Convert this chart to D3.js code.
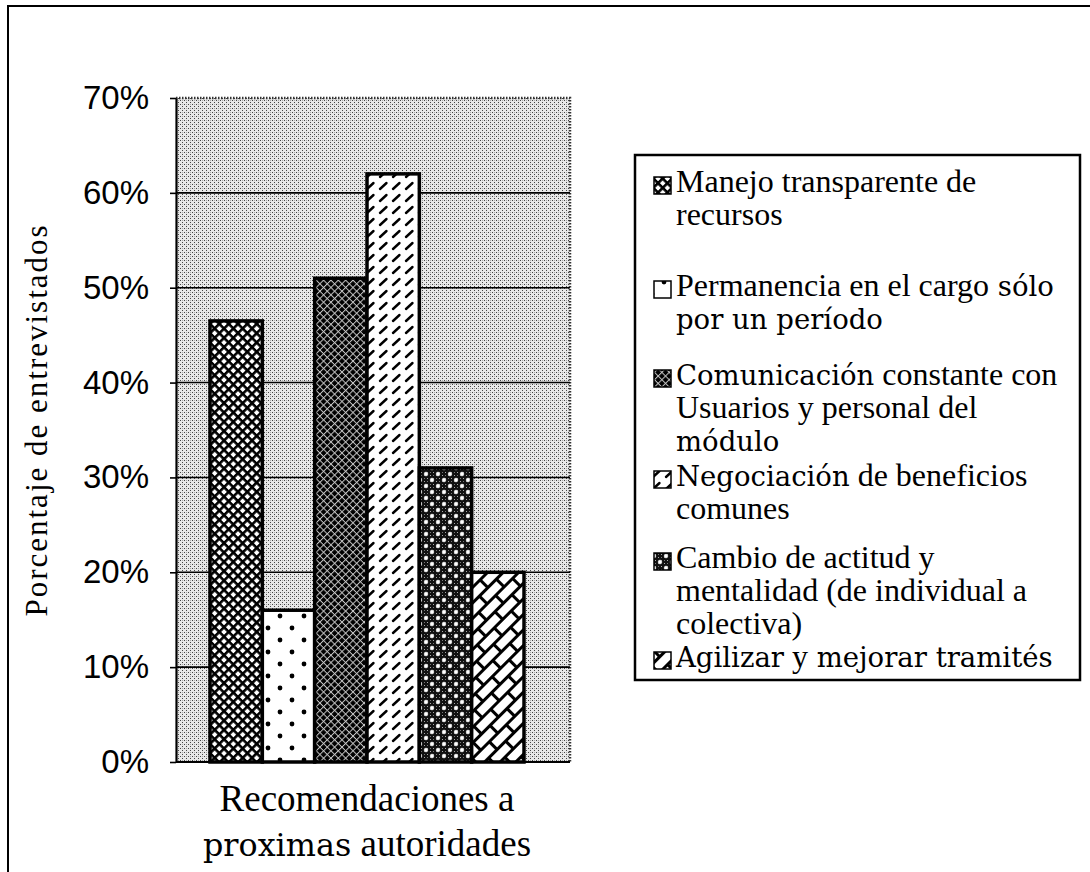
<!DOCTYPE html>
<html>
<head>
<meta charset="utf-8">
<script src="https://cdn.jsdelivr.net/npm/d3@7"></script>
<style>
  body { margin: 0; background: #fff; }
</style>
</head>
<body>
<svg id="chart" width="1090" height="872"></svg>
<script>
// data
var categories = [
    "Manejo transparente de recursos",
    "Permanencia en el cargo sólo por un período",
    "Comunicación constante con Usuarios y personal del módulo",
    "Negociación de beneficios comunes",
    "Cambio de actitud y mentalidad (de individual a colectiva)",
    "Agilizar y mejorar tramités"
];
var values = [0.465, 0.16, 0.51, 0.62, 0.31, 0.20];
var yTicks = [0, 0.1, 0.2, 0.3, 0.4, 0.5, 0.6, 0.7];
var legendLines = [
    ["Manejo transparente de", "recursos"],
    ["Permanencia en el cargo sólo", "por un período"],
    ["Comunicación constante con", "Usuarios y personal del", "módulo"],
    ["Negociación de beneficios", "comunes"],
    ["Cambio de actitud y", "mentalidad (de individual a", "colectiva)"],
    ["Agilizar y mejorar tramités"]
];
var groupLabel = ["Recomendaciones a", "proximas autoridades"];
var yTitle = "Porcentaje de entrevistados";
// words that the scan prints in a different typeface
var altWords = ["sólo", "por", "un", "período", "Comunicación", "módulo", "Negociación",
    "Agilizar", "mejorar", "tramités", "proximas"];

var svg = d3.select("#chart");
var W = 1090, H = 872;

var plot = { left: 176, right: 570, top: 98, bottom: 762 };
var barRange = [210, 524];

var serif = "'Liberation Serif', 'Times New Roman', serif";
var sans = "'Liberation Sans', Arial, sans-serif";
var alt = "'DejaVu Serif', serif";

svg.append("rect").attr("width", W).attr("height", H).attr("fill", "#fff");

// ---- fill patterns -------------------------------------------------
var defs = svg.append("defs");

// halftone background of the plot area
var pBg = defs.append("pattern").attr("id", "p-bg")
    .attr("patternUnits", "userSpaceOnUse").attr("width", 4).attr("height", 4);
pBg.append("rect").attr("width", 4).attr("height", 4).attr("fill", "#e8e8e8");
pBg.append("rect").attr("x", 0).attr("y", 0).attr("width", 1).attr("height", 1).attr("fill", "#444");
pBg.append("rect").attr("x", 2).attr("y", 2).attr("width", 1).attr("height", 1).attr("fill", "#444");
pBg.append("rect").attr("x", 2).attr("y", 0).attr("width", 1).attr("height", 1).attr("fill", "#aaa");

// crosshatch lattice
function lattice(id, pitch, lw, bg, fg) {
    var p = defs.append("pattern").attr("id", id)
        .attr("patternUnits", "userSpaceOnUse")
        .attr("width", pitch).attr("height", pitch)
        .attr("patternTransform", "rotate(45)");
    p.append("rect").attr("width", pitch).attr("height", pitch).attr("fill", bg);
    p.append("rect").attr("width", pitch).attr("height", lw).attr("fill", fg);
    p.append("rect").attr("width", lw).attr("height", pitch).attr("fill", fg);
    return p;
}
lattice("p0", 6.6, 2.6, "#fff", "#000");
lattice("p2", 5.2, 1.0, "#000", "#c4c4c4");

// sparse dots
var p1 = defs.append("pattern").attr("id", "p1")
    .attr("patternUnits", "userSpaceOnUse").attr("width", 24).attr("height", 24)
    .attr("x", 4).attr("y", 4);
p1.append("rect").attr("width", 24).attr("height", 24).attr("fill", "#fff");
[[0, 0], [24, 0], [0, 24], [24, 24], [12, 12]].forEach(function (d) {
    p1.append("circle").attr("cx", d[0]).attr("cy", d[1]).attr("r", 2.4).attr("fill", "#000");
});

// short slanted dashes
var p3 = defs.append("pattern").attr("id", "p3")
    .attr("patternUnits", "userSpaceOnUse").attr("width", 13).attr("height", 12);
p3.append("rect").attr("width", 13).attr("height", 12).attr("fill", "#fff");
p3.append("line").attr("x1", 3).attr("y1", 9).attr("x2", 9.5).attr("y2", 3)
    .attr("stroke", "#000").attr("stroke-width", 2.4).attr("stroke-linecap", "round");

// dark speckle with white diamonds
var p4 = defs.append("pattern").attr("id", "p4")
    .attr("patternUnits", "userSpaceOnUse").attr("width", 12).attr("height", 12);
p4.append("rect").attr("width", 12).attr("height", 12).attr("fill", "#111");
d3.range(0, 12, 3).forEach(function (i) {
    d3.range(0, 12, 3).forEach(function (j) {
        p4.append("rect").attr("x", i + 1).attr("y", j + 1).attr("width", 1).attr("height", 1)
            .attr("fill", (i + j) % 2 ? "#aaa" : "#777");
    });
});
[[0, 0], [12, 0], [0, 12], [12, 12], [6, 6]].forEach(function (d) {
    p4.append("path")
        .attr("d", "M" + d[0] + "," + (d[1] - 2.4) + "L" + (d[0] + 2.4) + "," + d[1] +
            "L" + d[0] + "," + (d[1] + 2.4) + "L" + (d[0] - 2.4) + "," + d[1] + "Z")
        .attr("fill", "#fff");
});

// diagonal bricks
var p5 = defs.append("pattern").attr("id", "p5")
    .attr("patternUnits", "userSpaceOnUse").attr("width", 24).attr("height", 22)
    .attr("patternTransform", "rotate(-45)");
p5.append("rect").attr("width", 24).attr("height", 22).attr("fill", "#fff");
p5.append("rect").attr("x", 0).attr("y", 0).attr("width", 24).attr("height", 3).attr("fill", "#000");
p5.append("rect").attr("x", 0).attr("y", 11).attr("width", 24).attr("height", 3).attr("fill", "#000");
p5.append("rect").attr("x", 0).attr("y", 0).attr("width", 3).attr("height", 11).attr("fill", "#000");
p5.append("rect").attr("x", 12).attr("y", 11).attr("width", 3).attr("height", 11).attr("fill", "#000");

var fills = ["url(#p0)", "url(#p1)", "url(#p2)", "url(#p3)", "url(#p4)", "url(#p5)"];

// ---- frame ---------------------------------------------------------
svg.append("path")
    .attr("d", "M8," + (H + 5) + "V6H" + (W + 5))
    .attr("fill", "none").attr("stroke", "#000").attr("stroke-width", 2);

// ---- scales --------------------------------------------------------
var y = d3.scaleLinear().domain([0, 0.7]).range([plot.bottom, plot.top]);
var x = d3.scaleBand().domain(categories).range(barRange).padding(0);

// plot area
svg.append("rect")
    .attr("x", plot.left).attr("y", plot.top)
    .attr("width", plot.right - plot.left).attr("height", plot.bottom - plot.top)
    .attr("fill", "url(#p-bg)");
svg.append("path")
    .attr("d", "M" + plot.left + "," + plot.top + "H" + plot.right + "V" + plot.bottom)
    .attr("fill", "none").attr("stroke", "#333").attr("stroke-width", 2.5)
    .attr("stroke-dasharray", "1.5,1.5");

// grid lines
svg.append("g").selectAll("line")
    .data(yTicks.filter(function (d) { return d > 0 && d < 0.7; }))
    .join("line")
    .attr("x1", plot.left).attr("x2", plot.right)
    .attr("y1", function (d) { return y(d); }).attr("y2", function (d) { return y(d); })
    .attr("stroke", "#000").attr("stroke-width", 1.6);

// bars
svg.append("g").selectAll("rect")
    .data(values)
    .join("rect")
    .attr("x", function (d, i) { return x(categories[i]); })
    .attr("y", function (d) { return y(d); })
    .attr("width", x.bandwidth())
    .attr("height", function (d) { return y(0) - y(d); })
    .attr("fill", function (d, i) { return fills[i]; })
    .attr("stroke", "#000").attr("stroke-width", 3.5);

// y axis
var yAxis = svg.append("g")
    .attr("transform", "translate(" + plot.left + ",0)")
    .call(d3.axisLeft(y).tickValues(yTicks).tickFormat(d3.format(".0%"))
        .tickSize(6).tickSizeOuter(0).tickPadding(21));
yAxis.select(".domain").attr("stroke", "#000").attr("stroke-width", 2.2);
yAxis.selectAll(".tick line").attr("stroke", "#000").attr("stroke-width", 1.6);
yAxis.selectAll(".tick text")
    .attr("fill", "#000")
    .style("font-family", sans).style("font-size", "33px");

// base line
svg.append("line")
    .attr("x1", plot.left).attr("x2", plot.right)
    .attr("y1", y(0)).attr("y2", y(0))
    .attr("stroke", "#000").attr("stroke-width", 2.2);

// write a line of words, swapping typeface for the marked words
function words(sel, line, size) {
    line.split(" ").forEach(function (w, k) {
        var isAlt = altWords.indexOf(w) >= 0;
        sel.append("tspan")
            .text((k ? " " : "") + w)
            .style("font-family", isAlt ? alt : serif)
            .style("font-size", (isAlt ? size * 0.86 : size) + "px");
    });
}

// y title
svg.append("text")
    .attr("transform", "translate(47,420) rotate(-90)")
    .attr("text-anchor", "middle")
    .style("font-family", serif).style("font-size", "31px")
    .style("letter-spacing", "2px")
    .text(yTitle);

// category label under the group
var xMid = (barRange[0] + barRange[1]) / 2;
groupLabel.forEach(function (line, i) {
    var t = svg.append("text")
        .attr("x", xMid).attr("y", 811 + i * 45)
        .attr("text-anchor", "middle");
    words(t, line, 37);
});

// ---- legend --------------------------------------------------------
var lg = { left: 635, top: 155, right: 1080, bottom: 680 };
svg.append("rect")
    .attr("x", lg.left).attr("y", lg.top)
    .attr("width", lg.right - lg.left).attr("height", lg.bottom - lg.top)
    .attr("fill", "#fff").attr("stroke", "#000").attr("stroke-width", 2.5);

// first-line position of each entry, as laid out in the scan
var legendRowY = [186, 290, 379, 480, 562, 661];
var lineH = 33;

var item = svg.append("g").selectAll("g")
    .data(categories)
    .join("g")
    .attr("transform", function (d, i) { return "translate(0," + legendRowY[i] + ")"; });

item.append("rect")
    .attr("x", 654).attr("y", -9).attr("width", 17).attr("height", 17)
    .attr("fill", function (d, i) { return fills[i]; })
    .attr("stroke", "#000").attr("stroke-width", 1.5);

item.each(function (d, i) {
    var g = d3.select(this);
    legendLines[i].forEach(function (line, k) {
        var t = g.append("text")
            .attr("x", 676).attr("y", k * lineH)
            .attr("dy", "0.35em");
        words(t, line, 32);
    });
});
</script>
</body>
</html>
